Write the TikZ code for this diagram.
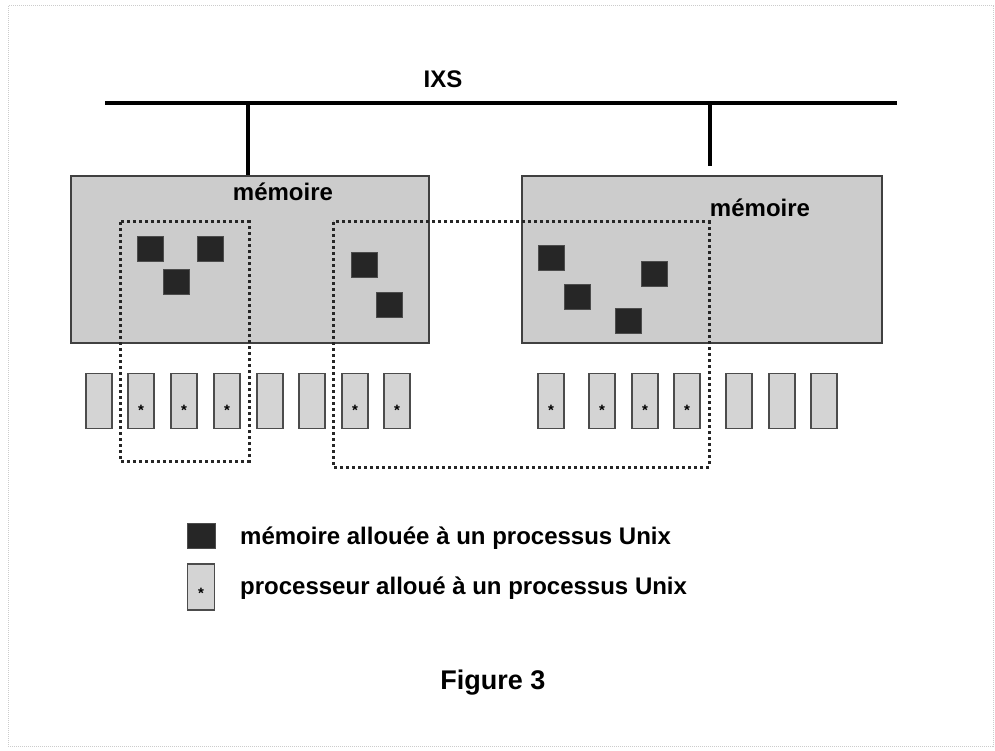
\documentclass[tikz,border=0pt]{standalone}
\usepackage{fontspec}
\setmainfont{Liberation Sans}
\begin{document}
\begin{tikzpicture}[x=1pt,y=-1pt,
  lbl/.style={font=\fontsize{24}{28}\selectfont\bfseries, inner sep=0pt},
  membox/.style={draw=black!75, line width=1.8pt, fill=black!20, inner sep=0pt, anchor=north west},
  blk/.style={fill=black!85, draw=black!70, line width=0.6pt, minimum width=26pt, minimum height=25pt, inner sep=0pt},
  cpu/.style={draw=black!70, line width=1.8pt, fill=black!17, minimum width=26pt, minimum height=55pt, inner sep=0pt},
  star/.style={font=\fontsize{15}{15}\selectfont\bfseries, inner sep=0pt},
  grp/.style={draw=black!85, line width=3pt, dash pattern=on 3pt off 3pt},
  bus/.style={line width=3.6pt, black}]
\useasboundingbox (0,0) rectangle (995,751);
% faint page frame
\draw[black!20, line width=1pt, dash pattern=on 1pt off 1pt] (8,6) rectangle (993,746);

% interconnect bus
\coordinate (busW) at (105,103);
\coordinate (busE) at (897,103);
\draw[bus] (busW) -- (busE);
\node[lbl] (ixs) at (443,79) {IXS};

% memory banks
\node[membox, minimum width=358pt, minimum height=167pt] (memA) at (70,175) {};
\node[membox, minimum width=360pt, minimum height=167pt] (memB) at (521,175) {};
\node[lbl] (memAlbl) at (283,192) {mémoire};
\node[lbl] (memBlbl) at (760,208) {mémoire};

% bus taps
\coordinate (tapA) at (248,103);
\coordinate (tapB) at (710,103);
\coordinate (tapBend) at (710,166);
\draw[line width=3.2pt] (tapA) -- (tapA |- memA.north);
\draw[line width=3.2pt] (tapB) -- (tapBend);

% allocated memory blocks
\node[blk] (m1) at (150,249) {};
\node[blk] (m2) at (210,249) {};
\node[blk] (m3) at (176,282) {};
\node[blk] (m4) at (364,265) {};
\node[blk] (m5) at (389,305) {};
\node[blk] (m6) at (551,258) {};
\node[blk] (m7) at (577,297) {};
\node[blk] (m8) at (654,274) {};
\node[blk] (m9) at (628,321) {};

% processors
\foreach \n/\x/\s in {p1/99/0, p2/141/1, p3/184/1, p4/227/1, p5/270/0, p6/312/0, p7/355/1, p8/397/1,
                      q1/551/1, q2/602/1, q3/645/1, q4/687/1, q5/739/0, q6/782/0, q7/824/0}{
  \node[cpu] (\n) at (\x,401) {};
  \ifnum\s=1 \node[star] at ([yshift=-9pt]\n.center) {*};\fi
}

% process groups
\draw[grp] (120,222) rectangle (249,461);
\draw[grp] (333,222) rectangle (709,467);

% legend
\node[blk, minimum width=28pt] (legM) at (201,536) {};
\node[cpu, minimum width=27pt, minimum height=46pt] (legP) at (201,587) {};
\node[star] at ([yshift=-6pt]legP.center) {*};
\node[lbl, anchor=west] (legMtxt) at (240,538) {mémoire allouée à un processus Unix};
\node[lbl, anchor=west] (legPtxt) at (240,588) {processeur alloué à un processus Unix};

% caption
\node[lbl, font=\fontsize{27}{30}\selectfont\bfseries] (cap) at (493,683) {Figure 3};
\end{tikzpicture}
\end{document}
